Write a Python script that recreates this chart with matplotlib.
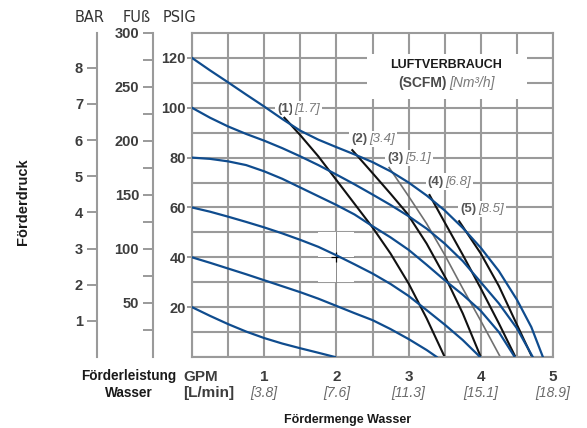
import numpy as np
import matplotlib
matplotlib.use('Agg')
import matplotlib.pyplot as plt
from matplotlib.patches import Rectangle

# --- data ---
gpm_ticks = [1, 2, 3, 4, 5]
lpm_labels = ['[3.8]', '[7.6]', '[11.3]', '[15.1]', '[18.9]']
psi_ticks = [20, 40, 60, 80, 100, 120]
bar_ticks = [1, 2, 3, 4, 5, 6, 7, 8]
ft_ticks = [50, 100, 150, 200, 250, 300]
ft_minor = [25, 75, 125, 175, 225, 275]

# pump curves at different air inlet pressures (GPM, PSIG)
q_120 = [0, 0.25, 0.5, 0.75, 1.0, 1.25, 1.5, 1.75, 2.0, 2.25, 2.5, 2.75, 3.0, 3.25, 3.5,
         3.75, 4.0, 4.25, 4.5, 4.7, 4.86]
p_120 = [120, 115, 110.2, 105.3, 100.5, 95.5, 90.8, 87.2, 84.2, 81.3, 78.2, 74.5, 70, 64.8,
         58.8, 51.8, 43.8, 34.5, 23, 12, 0]
q_100 = [0, 0.25, 0.5, 0.75, 1.0, 1.25, 1.5, 1.75, 2.0, 2.25, 2.5, 2.75, 3.0, 3.25, 3.5,
         3.75, 4.0, 4.25, 4.5, 4.72]
p_100 = [100, 96, 92.5, 89.5, 86.8, 83.8, 80.5, 77, 73.2, 69.3, 65.2, 61, 56.5, 51.5, 45.5,
         38.5, 30, 21.5, 11.5, 0]
q_80 = [0, 0.25, 0.5, 0.75, 1.0, 1.25, 1.5, 1.75, 2.0, 2.25, 2.5, 2.75, 3.0, 3.25, 3.5,
        3.75, 4.0, 4.25, 4.47]
p_80 = [80, 79.5, 78.5, 77, 74.5, 71.5, 68, 64.5, 61, 57.2, 52.5, 48, 43, 37, 30.8, 25, 18.5,
        10, 0]
q_60 = [0, 0.25, 0.5, 0.75, 1.0, 1.25, 1.5, 1.75, 2.0, 2.25, 2.5, 2.75, 3.0, 3.25, 3.5,
        3.75, 3.99]
p_60 = [60, 58.3, 56.3, 54.2, 52, 49.6, 47, 44.2, 40.8, 37.2, 33.5, 29.3, 24.5, 18.8, 13,
        6.8, 0]
q_40 = [0, 0.25, 0.5, 0.75, 1.0, 1.25, 1.5, 1.75, 2.0, 2.25, 2.5, 2.75, 3.0, 3.25, 3.39]
p_40 = [40, 37.8, 35.5, 33.2, 30.8, 28.4, 26, 23.4, 20.5, 17.6, 14.8, 11.2, 7.2, 2.8, 0]
q_20 = [0, 0.25, 0.5, 0.75, 1.0, 1.25, 1.5, 1.75, 1.98]
p_20 = [20, 16.5, 13.2, 10.2, 7.6, 5.4, 3.5, 1.7, 0]

# air consumption lines
air1_q = [1.28, 1.5, 1.75, 2.0, 2.25, 2.5, 2.75, 3.0, 3.25, 3.5]
air1_p = [96, 89, 80.5, 71, 61.5, 52, 41.5, 29.5, 15.5, 0]
air2_q = [2.22, 2.47, 2.75, 2.98, 3.25, 3.53, 3.75, 4.0]
air2_p = [83, 74.8, 65.5, 57.6, 45.5, 30.8, 17.5, 0]
air3_q = [2.73, 3.0, 3.25, 3.5, 3.75, 4.0, 4.27]
air3_p = [76, 64.5, 53.5, 41, 27.5, 14.5, 0]
air4_q = [3.29, 3.5, 3.75, 4.0, 4.25, 4.48]
air4_p = [65, 54, 41, 27.5, 13.5, 0]
air5_q = [3.70, 4.0, 4.25, 4.5, 4.71]
air5_p = [54.5, 41.5, 28.5, 13, 0]
air_scfm = ['(1)', '(2)', '(3)', '(4)', '(5)']
air_nm3 = ['[1.7]', '[3.4]', '[5.1]', '[6.8]', '[8.5]']

# label anchor (split between the two parts) in data coords
lab_x = [1.41, 2.44, 2.94, 3.50, 3.95]
lab_y = [99.5, 87.5, 80, 70.4, 59.5]

SANS = 'Liberation Sans'
GRID = '#9a9a9a'
BLUE = '#0f4c8e'
W, H = 587, 428


def px(x, y):
    return x / W, 1 - y / H


fig = plt.figure(figsize=(W / 100, H / 100), dpi=100)
pos = [192 / W, (H - 357) / H, (553 - 192) / W, (357 - 33) / H]

# side scales (bar, feet)
ax_bar = fig.add_axes(pos)
ax_ft = fig.add_axes(pos)
for a, off, top in [(ax_bar, 95, 130 / 14.5038), (ax_ft, 39, 300)]:
    a.patch.set_visible(False)
    for s in ['top', 'right', 'bottom']:
        a.spines[s].set_visible(False)
    a.spines['left'].set_position(('outward', off * 72 / 100))
    a.spines['left'].set_color(GRID)
    a.spines['left'].set_linewidth(1.5)
    a.set_xticks([])
    a.set_ylim(0, top)
    a.tick_params(axis='y', which='both', direction='out', length=7, width=1.4,
                  color=GRID, labelcolor='#3d3d3d', pad=3)
ax_bar.set_yticks(bar_ticks)
ax_ft.set_yticks(ft_ticks)
ax_ft.set_yticks(ft_minor, minor=True)
for a in (ax_bar, ax_ft):
    for t in a.get_yticklabels():
        t.set_fontfamily(SANS)
        t.set_fontweight('bold')
        t.set_fontsize(10.5)

# main axes
ax = fig.add_axes(pos)
ax.set_xlim(0, 5)
ax.set_ylim(0, 130)
ax.set_xticks([0.5 * i for i in range(11)])
ax.set_xticklabels([])
ax.set_yticks(psi_ticks)
ax.set_yticks([10 * i for i in range(13)], minor=True)
ax.tick_params(axis='x', length=0)
ax.tick_params(axis='y', which='minor', length=0)
ax.tick_params(axis='y', which='major', direction='out', length=3.5, width=1.4,
               color=GRID, labelcolor='#3d3d3d', pad=1)
for t in ax.get_yticklabels():
    t.set_fontfamily(SANS)
    t.set_fontweight('bold')
    t.set_fontsize(10.5)
ax.grid(True, which='both', color=GRID, lw=1.5, zorder=0)
ax.set_axisbelow(True)
for s in ax.spines.values():
    s.set_color(GRID)
    s.set_linewidth(1.5)

# white patch behind the legend title
ax.add_patch(Rectangle((2.42, 103.6), 2.22, 18, facecolor='white', edgecolor='none', zorder=1))
# white square with crosshair (artifact in the source image)
ax.add_patch(Rectangle((1.75, 30), 0.5, 20, facecolor='white', edgecolor='none', zorder=1))
ax.plot([2.0, 2.0], [30, 50], color='#8a8a8a', lw=0.7, zorder=1.2)
ax.plot([1.75, 2.25], [40, 40], color='#8a8a8a', lw=0.7, zorder=1.2)
ax.plot([2.0], [40], marker='+', ms=7, mew=0.9, color='black', zorder=1.3)

for q, p in [(q_120, p_120), (q_100, p_100), (q_80, p_80), (q_60, p_60), (q_40, p_40), (q_20, p_20)]:
    ax.plot(q, p, color=BLUE, lw=1.6, zorder=3, solid_joinstyle='round')

air_lines = [(air1_q, air1_p), (air2_q, air2_p), (air3_q, air3_p), (air4_q, air4_p), (air5_q, air5_p)]
for i, (q, p) in enumerate(air_lines):
    if i == 2:
        ax.plot(q, p, color='#707070', lw=1.2, zorder=2.5)
    else:
        ax.plot(q, p, color='#111111', lw=1.5, zorder=2.5)

box = dict(facecolor='white', edgecolor='none', pad=1.5)
for i in range(5):
    ax.text(lab_x[i] - 0.01, lab_y[i], air_scfm[i], ha='right', va='center', fontsize=9.5,
            fontweight='bold', color='#555555', family=SANS, bbox=box, zorder=2)
    ax.text(lab_x[i] + 0.01, lab_y[i], air_nm3[i], ha='left', va='center', fontsize=9.5,
            style='italic', color='#7a7a7a', family=SANS, bbox=box, zorder=2)

# legend title
fig.text(*px(446, 65), 'LUFTVERBRAUCH', ha='center', va='center', fontsize=9,
         fontweight='bold', color='#1a1a1a', family=SANS)
fig.text(*px(447, 83), '(SCFM)', ha='right', va='center', fontsize=10,
         fontweight='bold', color='#4a4a4a', family=SANS)
fig.text(*px(449, 83), '[Nm³/h]', ha='left', va='center', fontsize=10,
         style='italic', color='#7a7a7a', family=SANS)

# bottom labels
for g, l in zip(gpm_ticks, lpm_labels):
    x = 192 + g * 72.2
    fig.text(*px(x, 377), str(g), ha='center', va='center', fontsize=11,
             fontweight='bold', color='#3d3d3d', family=SANS)
    fig.text(*px(x, 393), l, ha='center', va='center', fontsize=10,
             style='italic', color='#6a6a6a', family=SANS)
fig.text(*px(183, 377), 'GPM', ha='left', va='center', fontsize=11,
         fontweight='bold', color='#3d3d3d', family=SANS)
fig.text(*px(183, 393), '[L/min]', ha='left', va='center', fontsize=11,
         fontweight='bold', color='#3d3d3d', family=SANS)
fig.text(*px(129, 376), 'Förderleistung', ha='center', va='center', fontsize=9.8,
         fontweight='bold', color='#1a1a1a', family=SANS)
fig.text(*px(129, 393), 'Wasser', ha='center', va='center', fontsize=9.8,
         fontweight='bold', color='#1a1a1a', family=SANS)
fig.text(*px(348, 420), 'Fördermenge Wasser', ha='center', va='center', fontsize=9,
         fontweight='bold', color='#1a1a1a', family=SANS)
fig.text(*px(23, 202), 'Förderdruck', ha='center', va='center', rotation=90, fontsize=10.5,
         fontweight='bold', color='#1a1a1a', family=SANS)

# unit headers
fig.text(*px(90, 17), 'BAR', ha='center', va='center', fontsize=10.5, color='#333333', family='DejaVu Sans')
fig.text(*px(137, 17), 'FUß', ha='center', va='center', fontsize=10.5, color='#333333', family='DejaVu Sans')
fig.text(*px(180, 17), 'PSIG', ha='center', va='center', fontsize=10.5, color='#333333', family='DejaVu Sans')

plt.savefig('out.png', dpi=100)
